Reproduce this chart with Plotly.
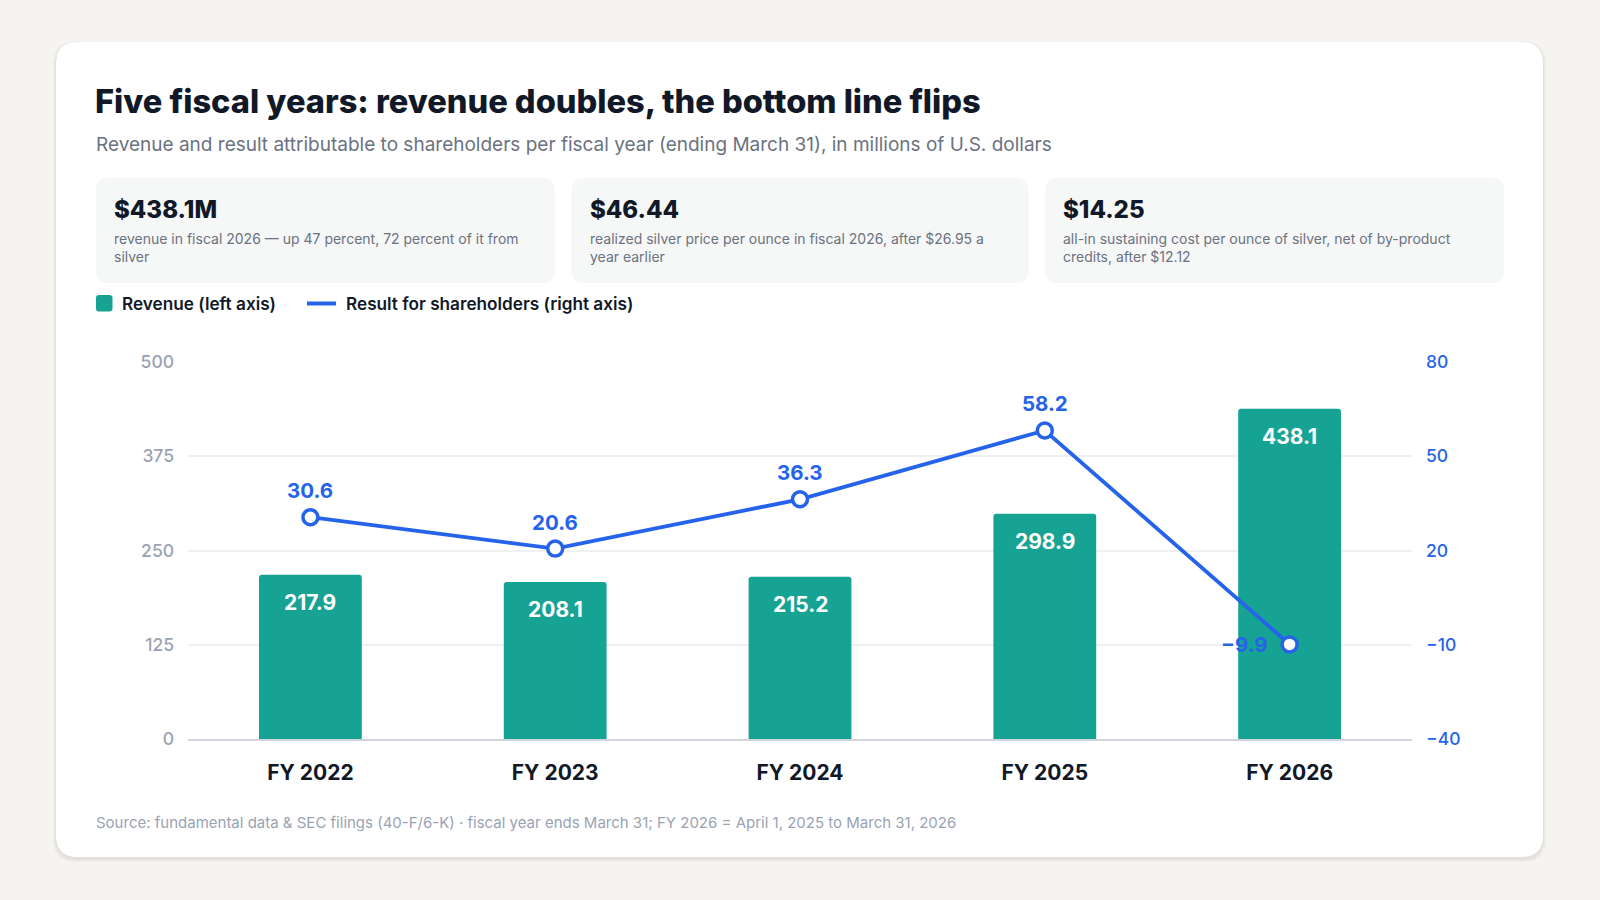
import plotly.graph_objects as go

# Data
years = ["FY 2022", "FY 2023", "FY 2024", "FY 2025", "FY 2026"]
revenue = [217.9, 208.1, 215.2, 298.9, 438.1]
result = [30.6, 20.6, 36.3, 58.2, -9.9]
left_ticks = [0, 125, 250, 375, 500]
right_ticks = [-40, -10, 20, 50, 80]

kpi_values = ["$438.1M", "$46.44", "$14.25"]
kpi_notes = [
    "revenue in fiscal 2026 \u2014 up 47 percent, 72 percent of it from<br>silver",
    "realized silver price per ounce in fiscal 2026, after $26.95 a<br>year earlier",
    "all-in sustaining cost per ounce of silver, net of by-product<br>credits, after $12.12",
]

title = "Five fiscal years: revenue doubles, the bottom line flips"
subtitle = ("Revenue and result attributable to shareholders per fiscal year "
            "(ending March 31), in millions of U.S. dollars")
source = ("Source: fundamental data & SEC filings (40-F/6-K) \u00b7 fiscal year ends March 31; "
          "FY 2026 = April 1, 2025 to March 31, 2026")

# Colours
TEAL = "#17a393"
BLUE = "#2563eb"
DARK = "#111827"
GREY = "#6b7280"
LIGHT = "#9aa3b2"
PAGE = "#f5f4f0"
FONT = "Inter"

# Plot area in pixels (figure is 1600 x 900)
W, H = 1600, 900
PL, PR, PT, PB = 188, 1412, 362, 739


def fx(x):
    return (x - PL) / (PR - PL)


def fy(y):
    return (PB - y) / (PB - PT)


def rounded(x0, y0, x1, y1, r):
    # rounded rectangle path in paper coords, built from pixel coords
    pts = [
        ("M", x0 + r, y0), ("L", x1 - r, y0), ("Q", x1, y0, x1, y0 + r),
        ("L", x1, y1 - r), ("Q", x1, y1, x1 - r, y1), ("L", x0 + r, y1),
        ("Q", x0, y1, x0, y1 - r), ("L", x0, y0 + r), ("Q", x0, y0, x0 + r, y0),
    ]
    out = []
    for p in pts:
        if p[0] == "Q":
            out.append(f"Q {fx(p[1])},{fy(p[2])} {fx(p[3])},{fy(p[4])}")
        else:
            out.append(f"{p[0]} {fx(p[1])},{fy(p[2])}")
    return " ".join(out) + " Z"


fig = go.Figure()

fig.add_trace(go.Bar(
    x=years, y=revenue, name="Revenue (left axis)",
    marker=dict(color=TEAL, cornerradius=3, line=dict(width=0)),
    width=0.42, hoverinfo="x+y",
))

fig.add_trace(go.Scatter(
    x=years, y=result, yaxis="y2", name="Result for shareholders (right axis)",
    mode="lines+markers",
    line=dict(color=BLUE, width=3.8),
    marker=dict(size=15, color="white", line=dict(color=BLUE, width=3.5)),
    cliponaxis=False,
))

shapes = []
# card shadow + white card
for i, a in enumerate([0.025, 0.03, 0.04]):
    d = 3 - i
    shapes.append(dict(type="path", xref="paper", yref="paper", layer="below",
                       path=rounded(56 - d, 42 - d + 2, 1543 + d, 857 + d + 2, 22),
                       fillcolor=f"rgba(60,50,30,{a})", line=dict(width=0)))
shapes.append(dict(type="path", xref="paper", yref="paper", layer="below",
                   path=rounded(56, 42, 1543, 857, 22),
                   fillcolor="white", line=dict(width=0)))

# KPI boxes
kpi_x = [(96, 555), (571.5, 1028.5), (1045, 1504)]
for x0, x1 in kpi_x:
    shapes.append(dict(type="path", xref="paper", yref="paper", layer="below",
                       path=rounded(x0, 178, x1, 283, 13),
                       fillcolor="#f6f7f7", line=dict(width=0)))

# legend marks
shapes.append(dict(type="path", xref="paper", yref="paper",
                   path=rounded(96, 295, 112.5, 311.5, 3),
                   fillcolor=TEAL, line=dict(width=0)))
shapes.append(dict(type="line", xref="paper", yref="paper",
                   x0=fx(307), x1=fx(336), y0=fy(303.5), y1=fy(303.5),
                   line=dict(color=BLUE, width=4)))

ann = []


def text(x, y, s, size, color, weight=400, yanchor="middle"):
    ann.append(dict(x=fx(x), y=fy(y), xref="paper", yref="paper", text=s,
                    showarrow=False, xanchor="left", yanchor=yanchor, align="left",
                    borderpad=0,
                    font=dict(family=FONT, size=size, color=color, weight=weight)))


text(94, 100.5, title, 32.6, DARK, 800)
text(95, 145, subtitle, 19, GREY)
for (x0, x1), v, n in zip(kpi_x, kpi_values, kpi_notes):
    text(x0 + 17, 209, v, 24, DARK, 800)
    text(x0 + 17, 228.5, n, 14, GREY, yanchor="top")
text(121, 303.5, "Revenue (left axis)", 17.2, DARK, 600)
text(345, 303.5, "Result for shareholders (right axis)", 17.2, DARK, 600)
text(95, 822.5, source, 15, LIGHT)

# value labels
for yr, v in zip(years, revenue):
    ann.append(dict(x=yr, y=v, xref="x", yref="y", text=f"{v:.1f}", showarrow=False,
                    yanchor="top", yshift=-14, borderpad=0,
                    font=dict(family=FONT, size=21, color="white", weight=700)))
for yr, v in zip(years, result):
    label = f"{v:.1f}".replace("-", "\u2212")
    if v < 0:
        ann.append(dict(x=yr, y=v, xref="x", yref="y2", text=label, showarrow=False,
                        xanchor="right", yanchor="middle", xshift=-21, borderpad=0,
                        font=dict(family=FONT, size=20.5, color=BLUE, weight=700)))
    else:
        ann.append(dict(x=yr, y=v, xref="x", yref="y2", text=label, showarrow=False,
                        yanchor="bottom", yshift=13, borderpad=0,
                        font=dict(family=FONT, size=20.5, color=BLUE, weight=700)))

fig.update_layout(
    width=W, height=H,
    margin=dict(l=PL, r=W - PR, t=PT, b=H - PB, pad=0),
    paper_bgcolor=PAGE,
    plot_bgcolor="rgba(0,0,0,0)",
    showlegend=False,
    bargap=0.58,
    shapes=shapes,
    annotations=ann,
    font=dict(family=FONT),
    xaxis=dict(
        tickfont=dict(family=FONT, size=21, color=DARK, weight=700),
        showgrid=False, showline=True, linecolor="#d1d5db", linewidth=2,
        ticks="", ticklabelstandoff=14, fixedrange=True,
    ),
    yaxis=dict(
        range=[0, 500], tickvals=left_ticks,
        tickfont=dict(family=FONT, size=17.5, color=LIGHT, weight=500),
        gridcolor="#eef0f1", gridwidth=1.5, zeroline=False,
        ticks="", ticklabelstandoff=13, fixedrange=True,
    ),
    yaxis2=dict(
        range=[-40, 80], tickvals=right_ticks, overlaying="y", side="right",
        tickfont=dict(family=FONT, size=17.5, color=BLUE, weight=500),
        showgrid=False, zeroline=False,
        ticks="", ticklabelstandoff=13, fixedrange=True,
    ),
)

# drop the browser's default body margin so the figure fills the window
fig.write_html(
    "out.html",
    config={"displayModeBar": False},
    post_script=("document.body.style.margin='0';"
                 "document.body.style.background='" + PAGE + "';"),
)
